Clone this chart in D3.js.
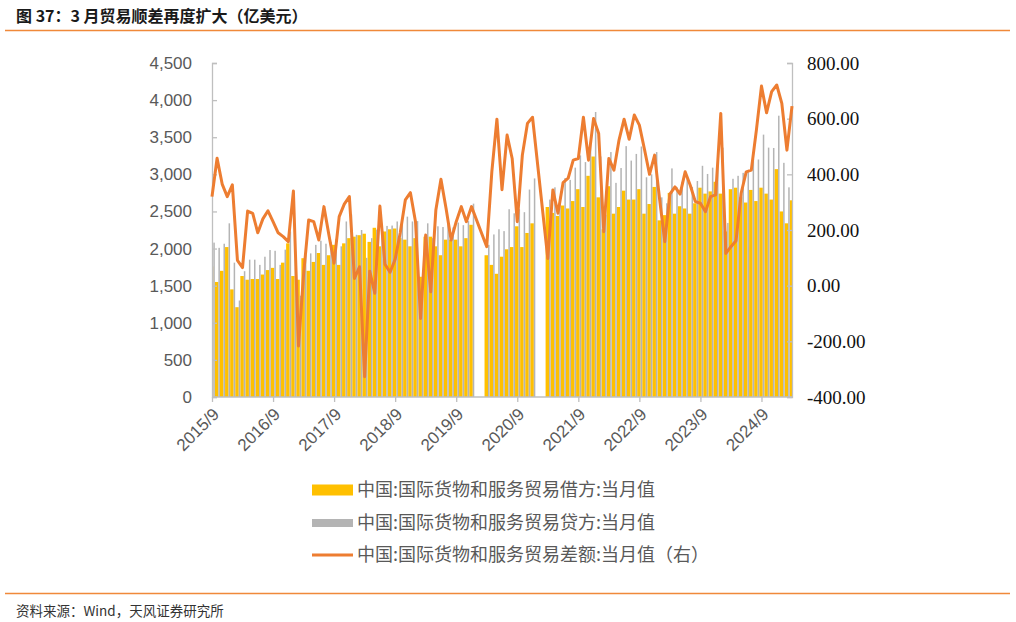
<!DOCTYPE html>
<html>
<head>
<meta charset="utf-8">
<script src="https://cdn.jsdelivr.net/npm/d3@7/dist/d3.min.js"></script>
<style>
  body { margin: 0; background: #fff; }
  svg { display: block; }
</style>
</head>
<body>
<div id="chart"></div>
<script>
// months 2015/9 .. 2025/3
const startYear = 2015, startMonth = 9, monthCount = 115;
const months = [];
for (let k = 0; k < monthCount; k++) {
    const m = startMonth - 1 + k;
    months.push((startYear + Math.floor(m / 12)) + "/" + (m % 12 + 1));
}
const tickLabels = ["2015/9", "2016/9", "2017/9", "2018/9", "2019/9", "2020/9", "2021/9", "2022/9", "2023/9", "2024/9"];
const leftTicks = [0, 500, 1000, 1500, 2000, 2500, 3000, 3500, 4000, 4500];
const rightTicks = [-400, -200, 0, 200, 400, 600, 800];

// 借方 (yellow), 亿美元
const debit = [
    1760, 1550, 1700, 2020, 1450, 1210, 1630, 1580, 1590, 1590, 1650, 1710,
    1740, 1590, 1810, 2070, 1630, 1580, 1870, 1700, 1820, 1940, 1780, 1910,
    2050, 1780, 2070, 2140, 2160, 2180, 2200, 2090, 2280, 2030, 2230, 2260,
    2270, 2140, 2120, 2030, 2140, 1620, 2160, 2160, 2030, 1910, 2120, 2120,
    2120, 2030, 2140, 2320, null, null, 1910, 1780, 1660, 1890, 1990, 2020,
    2300, 2020, 2210, 2340, null, null, 2560, 2480, 2440, 2580, 2540, 2640,
    2800, 2560, 2980, 3240, 2690, 2260, 2840, 2470, 2560, 2780, 2660, 2660,
    2800, 2470, 2600, 2830, 2380, 2450, 2750, 2470, 2570, 2540, 2470, 2610,
    2820, 2740, 2770, 2900, 2740, 2230, 2800, 2820, 2690, 2620, 2790, 2640,
    2820, 2740, 2660, 3070, 2500, 2340, 2650
];
// 贷方 (gray)
const credit = [
    2080, 2010, 2065, 2340, 1810, 1300, 1695, 1850, 1850, 1780, 1890, 1980,
    1970, 1780, 1985, 2230, 1970, 1365, 1910, 1935, 2050, 2105, 2065, 2090,
    2130, 2030, 2365, 2460, 2185, 2250, 1875, 2140, 2255, 2315, 2305, 2310,
    2365, 2330, 2430, 2365, 2370, 1500, 2340, 2140, 2300, 2290, 2400, 2285,
    2350, 2315, 2370, 2605, null, null, 2050, 2190, 2260, 2235, 2530, 2475,
    2530, 2490, 2795, 2945, null, null, 2660, 2825, 2700, 2950, 2925, 3090,
    3255, 3165, 3430, 3840, 3240, 2455, 3300, 2885, 3085, 3380, 3185, 3275,
    3375, 2960, 3000, 3300, 2690, 2610, 3080, 2825, 2900, 2950, 2830, 2910,
    3115, 3005, 3090, 3225, 3360, 2345, 2940, 2980, 3020, 3030, 3205, 3200,
    3535, 3360, 3355, 3790, 3155, 2825, 3295
];
// 差额 (orange line, right axis)
const balance = [
    320, 458, 365, 320, 362, 91, 65, 268, 260, 190, 240, 269,
    230, 190, 176, 158, 340, -217, 40, 236, 230, 164, 284, 180,
    81, 248, 293, 320, 26, 68, -327, 52, -27, 286, 77, 48,
    95, 190, 308, 334, 230, -118, 182, -22, 272, 382, 278, 164,
    230, 284, 230, 284, null, null, 140, 409, 598, 345, 541, 457,
    230, 469, 583, 605, null, null, 98, 344, 260, 370, 386, 451,
    457, 605, 451, 601, 547, 194, 457, 415, 523, 598, 526, 613,
    577, 490, 400, 469, 307, 158, 329, 355, 329, 409, 361, 302,
    296, 266, 320, 326, 619, 116, 140, 161, 332, 409, 415, 559,
    717, 621, 697, 721, 655, 487, 645
];

const rows = months.map((m, i) => ({ month: m, debit: debit[i], credit: credit[i], balance: balance[i] }));

const svg = d3.select("#chart").append("svg")
    .attr("width", 1016)
    .attr("height", 622);

const cjk = "'Noto Sans CJK SC', 'Noto Sans', sans-serif";

// title and rules
svg.append("text")
    .attr("x", 16).attr("y", 22)
    .style("font-family", cjk)
    .style("font-weight", "bold")
    .style("font-size", "16px")
    .style("fill", "#1a1a1a")
    .text("图 37：3 月贸易顺差再度扩大（亿美元）");
svg.append("line")
    .attr("x1", 5).attr("x2", 1010).attr("y1", 30.5).attr("y2", 30.5)
    .style("stroke", "#F0893A").style("stroke-width", 1.5);
svg.append("line")
    .attr("x1", 5).attr("x2", 1010).attr("y1", 593.5).attr("y2", 593.5)
    .style("stroke", "#F0893A").style("stroke-width", 1.5);
svg.append("text")
    .attr("x", 16).attr("y", 616)
    .style("font-family", cjk)
    .style("font-size", "13.5px")
    .style("fill", "#333")
    .text("资料来源：Wind，天风证券研究所");

// scales
const x = d3.scalePoint(months, [212, 792]);
const yLeft = d3.scaleLinear([0, 4500], [397, 63]);
const yRight = d3.scaleLinear([-400, 800], [397, 63]);

svg.append("clipPath").attr("id", "plotClip")
    .append("rect").attr("x", 212).attr("y", 40).attr("width", 580).attr("height", 360);

const bars = svg.append("g").attr("clip-path", "url(#plotClip)");

// yellow bars
bars.selectAll("rect.debit")
    .data(rows.filter(d => d.debit != null))
    .enter()
    .append("rect")
    .attr("class", "debit")
    .attr("x", d => x(d.month) - 2.2)
    .attr("width", 3.5)
    .attr("y", d => yLeft(d.debit))
    .attr("height", d => yLeft(0) - yLeft(d.debit))
    .style("fill", "#FFC000");

// gray bars
bars.selectAll("rect.credit")
    .data(rows.filter(d => d.credit != null))
    .enter()
    .append("rect")
    .attr("class", "credit")
    .attr("x", d => x(d.month) + 1.3)
    .attr("width", 1.5)
    .attr("y", d => yLeft(d.credit))
    .attr("height", d => yLeft(0) - yLeft(d.credit))
    .style("fill", "#B4B4B4");

// axes
const axisColor = "#BFBFBF";
const leftAxis = svg.append("g")
    .attr("transform", "translate(212,0)")
    .call(d3.axisRight(yLeft).tickValues(leftTicks).tickSize(5).tickFormat(""));
const rightAxis = svg.append("g")
    .attr("transform", "translate(792,0)")
    .call(d3.axisLeft(yRight).tickValues(rightTicks).tickSize(5).tickFormat(""));
const bottomAxis = svg.append("g")
    .attr("transform", "translate(0,397)")
    .call(d3.axisBottom(x).tickValues(tickLabels).tickSize(5).tickFormat(""));
[leftAxis, rightAxis, bottomAxis].forEach(g => {
    g.selectAll("path, line").style("stroke", axisColor).style("stroke-width", 1.3);
});
bottomAxis.select("path").attr("d", "M212,0H792");

// left tick labels
svg.append("g").selectAll("text")
    .data(leftTicks)
    .enter()
    .append("text")
    .attr("x", 192)
    .attr("y", d => yLeft(d))
    .attr("dy", "0.35em")
    .attr("text-anchor", "end")
    .style("font-family", "'Liberation Sans', Arial, sans-serif")
    .style("font-size", "17px")
    .style("fill", "#595959")
    .text(d => d3.format(",")(d));

// right tick labels
svg.append("g").selectAll("text")
    .data(rightTicks)
    .enter()
    .append("text")
    .attr("x", 807)
    .attr("y", d => yRight(d))
    .attr("dy", "0.35em")
    .style("font-family", "'Liberation Serif', 'Times New Roman', serif")
    .style("font-size", "19px")
    .style("fill", "#111")
    .text(d => d.toFixed(2));

// bottom tick labels
svg.append("g").selectAll("text")
    .data(tickLabels)
    .enter()
    .append("text")
    .attr("transform", d => "translate(" + (x(d) + 4) + ",411) rotate(-45)")
    .attr("text-anchor", "end")
    .attr("dy", "0.35em")
    .style("font-family", "'Liberation Sans', Arial, sans-serif")
    .style("font-size", "17px")
    .style("fill", "#595959")
    .text(d => d);

// balance line (gaps bridged, as in the source)
const lineGen = d3.line()
    .x(d => x(d.month))
    .y(d => yRight(d.balance));
svg.append("path")
    .datum(rows.filter(d => d.balance != null))
    .attr("d", lineGen)
    .style("fill", "none")
    .style("stroke", "#ED7D31")
    .style("stroke-width", 3)
    .style("stroke-linejoin", "round");

// legend
const legendItems = [
    { label: "中国:国际货物和服务贸易借方:当月值", type: "bar", color: "#FFC000", h: 11, y: 490 },
    { label: "中国:国际货物和服务贸易贷方:当月值", type: "bar", color: "#B4B4B4", h: 8, y: 523 },
    { label: "中国:国际货物和服务贸易差额:当月值（右）", type: "line", color: "#ED7D31", h: 3, y: 555 }
];
const legend = svg.append("g");
legendItems.forEach(item => {
    if (item.type === "bar") {
        legend.append("rect")
            .attr("x", 312).attr("y", item.y - item.h / 2)
            .attr("width", 41).attr("height", item.h)
            .style("fill", item.color);
    } else {
        legend.append("line")
            .attr("x1", 312).attr("x2", 353)
            .attr("y1", item.y).attr("y2", item.y)
            .style("stroke", item.color).style("stroke-width", 3);
    }
    legend.append("text")
        .attr("x", 357).attr("y", item.y)
        .attr("dy", "0.35em")
        .style("font-family", cjk)
        .style("font-size", "18px")
        .style("fill", "#595959")
        .text(item.label);
});
</script>
</body>
</html>
